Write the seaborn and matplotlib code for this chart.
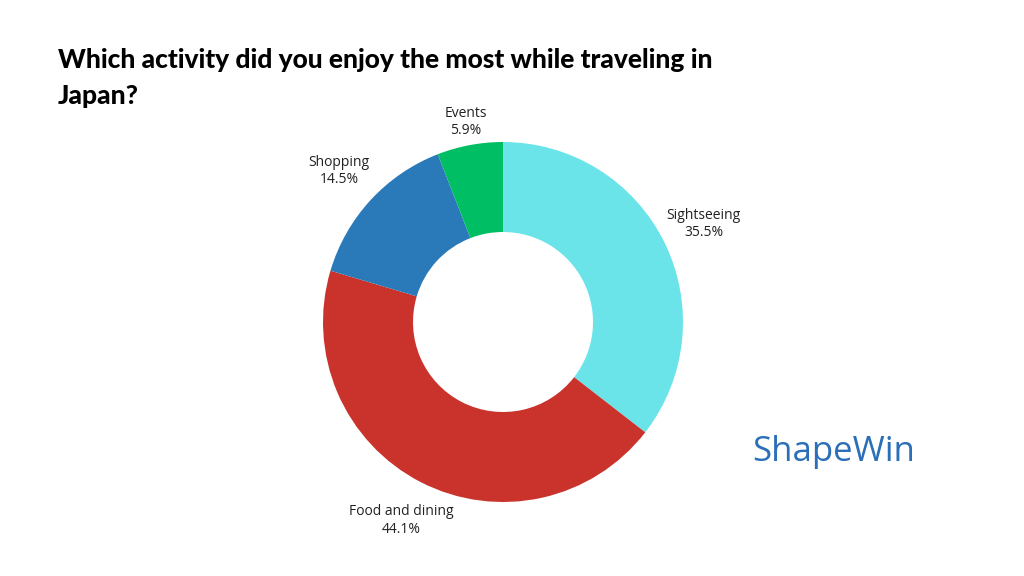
import matplotlib
matplotlib.use("Agg")
import matplotlib.pyplot as plt
import seaborn as sns

activities = ["Sightseeing", "Food and dining", "Shopping", "Events"]
shares = [35.5, 44.1, 14.5, 5.9]
colors = ["#6ae4e9", "#c9332c", "#2a7aba", "#00be64"]
title = "Which activity did you enjoy the most while traveling in\nJapan?"

sns.set_theme(style="white")
plt.rcParams["font.family"] = ["Open Sans", "DejaVu Sans"]

fig = plt.figure(figsize=(10.24, 5.76), dpi=100)
fig.patch.set_facecolor("white")
fig.text(58 / 1024, 1 - 48 / 576, title, fontsize=19, fontweight="black",
         family=["Lato", "DejaVu Sans"], va="top", ha="left", linespacing=1.6,
         color="black")

ax = fig.add_axes([(503 - 180) / 1024, (576 - 322 - 180) / 576, 360 / 1024, 360 / 576])
labels = [f"{a}\n{s}%" for a, s in zip(activities, shares)]
wedges, texts = ax.pie(shares, colors=colors, startangle=90, counterclock=False,
                       labels=labels, labeldistance=1.24, frame=False,
                       wedgeprops=dict(width=0.5, edgecolor="none"),
                       textprops=dict(fontsize=10, color="#222222"))
for t in texts:
    t.set_ha("center")
    t.set_va("center")
# the small Events slice sits its label closer in
x, y = texts[3].get_position()
texts[3].set_position((x * 1.13 / 1.24, y * 1.13 / 1.24))
ax.set_xlim(-1, 1)
ax.set_ylim(-1, 1)
ax.set_aspect("equal")
ax.axis("off")

# logo
fig.text(752 / 1024, 1 - 452 / 576, "ShapeWin", fontsize=25, color="#2a6fb8",
         va="center", ha="left", family=["Open Sans", "DejaVu Sans"])

fig.savefig("out.png", dpi=100)
